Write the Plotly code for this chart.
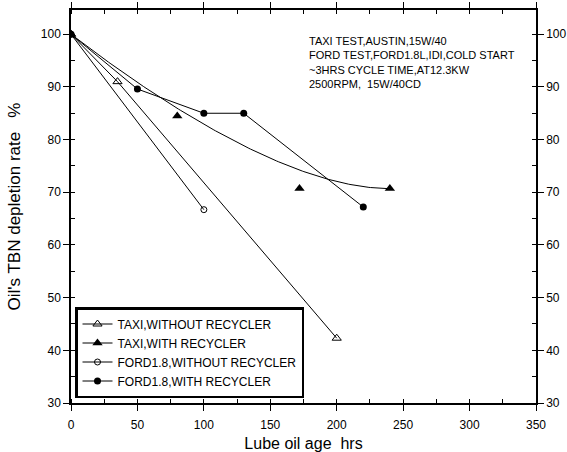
import numpy as np
import plotly.graph_objects as go

# ---- data ----
taxi_wo_x = [0, 35, 200]
taxi_wo_y = [100, 91.0, 42.3]

taxi_w_x = [0, 80, 172, 240]
taxi_w_y = [100, 84.5, 70.7, 70.7]

ford_wo_x = [0, 100]
ford_wo_y = [100, 66.7]

ford_w_x = [0, 50, 100, 130, 220]
ford_w_y = [100, 89.6, 85.0, 85.0, 67.2]

x_ticks = [0, 50, 100, 150, 200, 250, 300, 350]
y_ticks = [30, 40, 50, 60, 70, 80, 90, 100]

note_lines = ["TAXI TEST,AUSTIN,15W/40",
              "FORD TEST,FORD1.8L,IDI,COLD START",
              "~3HRS CYCLE TIME,AT12.3KW",
              "2500RPM,  15W/40CD"]

# B-spline (clamped cubic, control points = data) for TAXI with recycler
t = np.linspace(0, 1, 200)
P = np.array([taxi_w_x, taxi_w_y], dtype=float)
B = np.vstack([(1 - t) ** 3, 3 * (1 - t) ** 2 * t, 3 * (1 - t) * t ** 2, t ** 3])
curve = P @ B

FONT = "Arial, Liberation Sans, sans-serif"

fig = go.Figure()
fig.add_trace(go.Scatter(x=taxi_wo_x, y=taxi_wo_y, mode="lines+markers",
                         name="TAXI,WITHOUT RECYCLER",
                         line=dict(color="black", width=1),
                         marker=dict(symbol="triangle-up-open", size=8, color="black",
                                     line=dict(width=1, color="black"))))
fig.add_trace(go.Scatter(x=curve[0], y=curve[1], mode="lines", showlegend=False,
                         line=dict(color="black", width=1), hoverinfo="skip"))
fig.add_trace(go.Scatter(x=taxi_w_x, y=taxi_w_y, mode="markers", showlegend=False,
                         marker=dict(symbol="triangle-up", size=9, color="black")))
# legend entry for the TAXI with recycler series (line + marker)
fig.add_trace(go.Scatter(x=[None], y=[None], mode="lines+markers",
                         name="TAXI,WITH RECYCLER",
                         line=dict(color="black", width=1),
                         marker=dict(symbol="triangle-up", size=9, color="black")))
fig.add_trace(go.Scatter(x=ford_wo_x, y=ford_wo_y, mode="lines+markers",
                         name="FORD1.8,WITHOUT RECYCLER",
                         line=dict(color="black", width=1),
                         marker=dict(symbol="circle-open", size=6, color="black",
                                     line=dict(width=1, color="black"))))
fig.add_trace(go.Scatter(x=ford_w_x, y=ford_w_y, mode="lines+markers",
                         name="FORD1.8,WITH RECYCLER",
                         line=dict(color="black", width=1),
                         marker=dict(symbol="circle", size=7, color="black")))
# invisible trace to activate right axis
fig.add_trace(go.Scatter(x=[0], y=[100], yaxis="y2", mode="markers",
                         marker=dict(opacity=0), showlegend=False, hoverinfo="skip"))

fig.add_annotation(text="<br>".join(note_lines), xref="paper", yref="paper",
                   x=(307 - 71) / 465, y=(403 - 33) / 393, xanchor="left", yanchor="top",
                   align="left", showarrow=False,
                   font=dict(family=FONT, size=11, color="black"))

axis_common = dict(showgrid=False, zeroline=False, showline=True, linecolor="black",
                   linewidth=1.5, ticks="outside", ticklen=6, tickcolor="black",
                   automargin=False,
                   tickfont=dict(family=FONT, size=12, color="black"))

fig.update_layout(
    width=567, height=452,
    margin=dict(l=71, r=31, t=10, b=49),
    paper_bgcolor="white", plot_bgcolor="white",
    font=dict(family=FONT, color="black"),
    xaxis=dict(range=[0, 350], tickvals=x_ticks, mirror="ticks",
               ticklabelstandoff=4,
               minor=dict(dtick=25, ticks="inside", ticklen=4, tickcolor="black"),
               title=dict(text="Lube oil age  hrs", font=dict(family=FONT, size=16),
                          standoff=12),
               **axis_common),
    yaxis=dict(range=[30, 104.6], tickvals=y_ticks,
               minor=dict(dtick=5, ticks="inside", ticklen=4, tickcolor="black"),
               title=dict(text="Oil's TBN depletion rate   %", font=dict(family=FONT, size=17),
                          standoff=16),
               **axis_common),
    yaxis2=dict(range=[30, 104.6], tickvals=y_ticks, overlaying="y", side="right",
                ticklabelstandoff=0,
                minor=dict(dtick=5, ticks="inside", ticklen=4, tickcolor="black"),
                **axis_common),
    legend=dict(x=(75 - 71) / 465, y=(403 - 398) / 393, xanchor="left", yanchor="bottom",
                bgcolor="white", bordercolor="black", borderwidth=2.5,
                font=dict(family=FONT, size=12, color="black"),
                entrywidth=200, tracegroupgap=0),
    showlegend=True,
)

fig.write_html("out.html")
